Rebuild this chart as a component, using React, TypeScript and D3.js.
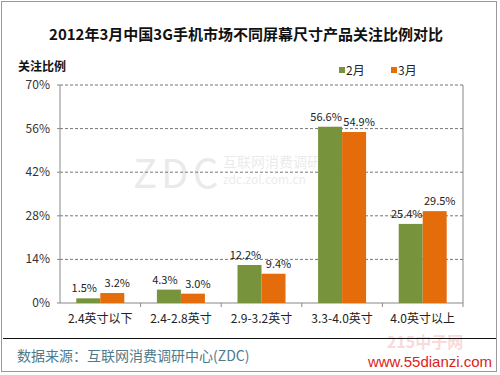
import React from "react";
import * as d3 from "d3";

const categories = ["2.4英寸以下", "2.4-2.8英寸", "2.9-3.2英寸", "3.3-4.0英寸", "4.0英寸以上"];
const seriesNames = ["2月", "3月"];
const febValues = [1.5, 4.3, 12.2, 56.6, 25.4];
const marValues = [3.2, 3.0, 9.4, 54.9, 29.5];
const yTicks = [0, 14, 28, 42, 56, 70];
const colors = ["#77933C", "#E46C0A"];

const W = 500, H = 375;
const m = { left: 60, right: 463, top: 85, bottom: 303 };
const FONT = "'Noto Sans CJK SC', 'Noto Sans', sans-serif";

export default function App() {
  const x = d3.scaleBand<string>().domain(categories).range([m.left, m.right]).paddingInner(0).paddingOuter(0);
  const y = d3.scaleLinear().domain([0, 70]).range([m.bottom, m.top]);
  const barW = 24;
  const series = [febValues, marValues];

  return (
    <svg width={W} height={H} style={{ position: "absolute", left: 0, top: 0, background: "#fff" }}>
      <rect x={0} y={0} width={W} height={H} fill="#fff" />
      <rect x={1.5} y={1.5} width={495} height={370} fill="none" stroke="#999" strokeWidth={1} />
      <text x={246} y={40} textAnchor="middle" fontFamily={FONT} fontSize={15} fontWeight="bold" fill="#111">
        2012年3月中国3G手机市场不同屏幕尺寸产品关注比例对比
      </text>
      <text x={18} y={71} fontFamily={FONT} fontSize={12} fontWeight="bold" fill="#111">关注比例</text>
      {seriesNames.map((s, i) => (
        <g key={s} transform={`translate(${339 + i * 52},0)`}>
          <rect x={0} y={67} width={6} height={6} fill={colors[i]} />
          <text x={7} y={75} fontFamily={FONT} fontSize={12} fill="#222">{s}</text>
        </g>
      ))}
      {/* watermark */}
      <g opacity={0.13} fontFamily={FONT}>
        <text x={133} y={188} fontSize={40} fill="#666" letterSpacing={4}>ZDC</text>
        <text x={223} y={167} fontSize={14} fill="#666">互联网消费调研中心</text>
        <text x={223} y={184} fontSize={12} fill="#666">zdc.zol.com.cn</text>
      </g>
      {/* grid */}
      {yTicks.filter(t => t > 0).map(t => (
        <line key={t} x1={m.left} x2={m.right} y1={y(t)} y2={y(t)} stroke="#777" strokeDasharray="3,2" strokeWidth={1} />
      ))}
      <line x1={m.right} x2={m.right} y1={m.top} y2={m.bottom} stroke="#888" />
      <line x1={m.left} x2={m.left} y1={m.top} y2={m.bottom} stroke="#888" />
      <line x1={m.left} x2={m.right} y1={m.bottom} y2={m.bottom} stroke="#888" />
      {yTicks.map(t => (
        <g key={t}>
          <line x1={m.left - 3} x2={m.left} y1={y(t)} y2={y(t)} stroke="#888" />
          <text x={50} y={y(t) + 4} textAnchor="end" fontFamily={FONT} fontSize={12} fill="#333">{t}%</text>
        </g>
      ))}
      {categories.map((c) => (
        <line key={c} x1={x(c)! + x.bandwidth()} x2={x(c)! + x.bandwidth()} y1={m.bottom} y2={m.bottom + 4} stroke="#888" />
      ))}
      {/* background watermark near bottom right */}
      <text x={425} y={348} textAnchor="middle" fontFamily={FONT} fontSize={16} fontWeight="bold" fill="#E88" opacity={0.3}>215中子网</text>
      {categories.map((c, ci) => {
        const cx = x(c)! + x.bandwidth() / 2;
        return (
          <g key={c}>
            {series.map((vals, si) => {
              const bx = cx - barW + si * barW;
              return (
                <g key={si}>
                  <rect x={bx} y={y(vals[ci])} width={barW} height={m.bottom - y(vals[ci])} fill={colors[si]} />
                  <text x={bx + barW / 2 + (si === 0 ? -4 : 5)} y={y(vals[ci]) - 6} textAnchor="middle" fontFamily={FONT} fontSize={11} fill="#222">
                    {vals[ci].toFixed(1)}%
                  </text>
                </g>
              );
            })}
            <text x={cx} y={323} textAnchor="middle" fontFamily={FONT} fontSize={12} fill="#222">{c}</text>
          </g>
        );
      })}
      <line x1={3} x2={496} y1={338.5} y2={338.5} stroke="#111" strokeWidth={1} />
      <text x={17} y={361} fontFamily={FONT} fontSize={14} fill="#4E7A8A">数据来源：互联网消费调研中心(ZDC)</text>
      <text x={430} y={367} textAnchor="middle" fontFamily="'Liberation Sans', Arial, sans-serif" fontSize={15} fill="#D22">www.55dianzi.com</text>
    </svg>
  );
}
